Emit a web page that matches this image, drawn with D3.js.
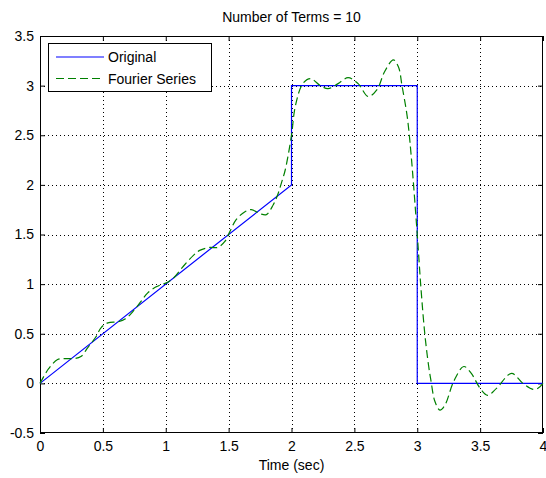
<!DOCTYPE html>
<html>
<head>
<meta charset="utf-8">
<script src="https://cdn.jsdelivr.net/npm/d3@7"></script>
<style>
  html, body { margin: 0; padding: 0; background: #fff; }
  svg { display: block; font-family: "Liberation Sans", Arial, sans-serif; }
</style>
</head>
<body>
<svg id="chart" width="546" height="478"></svg>
<script>
const titleText = "Number of Terms = 10";
const xLabelText = "Time (sec)";
const xTicks = [0, 0.5, 1, 1.5, 2, 2.5, 3, 3.5, 4];
const xTickLabels = ["0", "0.5", "1", "1.5", "2", "2.5", "3", "3.5", "4"];
const yTicks = [-0.5, 0, 0.5, 1, 1.5, 2, 2.5, 3, 3.5];
const yTickLabels = ["-0.5", "0", "0.5", "1", "1.5", "2", "2.5", "3", "3.5"];
const seriesNames = ["Original", "Fourier Series"];

const originalT = [0, 2, 2, 3, 3, 4];
const originalY = [0, 2, 3, 3, 0, 0];

const fourierT = [0, 0.07, 0.14, 0.205, 0.27, 0.325, 0.38, 0.445, 0.485, 0.54, 0.62, 0.68, 0.75, 0.80, 0.855, 0.92, 0.975, 1.0, 1.06, 1.14, 1.22, 1.27, 1.35, 1.415, 1.47, 1.51, 1.56, 1.63, 1.68, 1.75, 1.80, 1.855, 1.89, 1.92, 1.95, 2.0, 2.03, 2.09, 2.15, 2.23, 2.29, 2.37, 2.45, 2.53, 2.61, 2.68, 2.74, 2.81, 2.85, 2.88, 2.92, 2.95, 3.0, 3.03, 3.06, 3.09, 3.11, 3.14, 3.18, 3.22, 3.29, 3.37, 3.43, 3.5, 3.56, 3.63, 3.75, 3.84, 3.92, 3.96, 4.0];
const fourierY = [0, 0.15, 0.24, 0.25, 0.25, 0.27, 0.36, 0.47, 0.56, 0.61, 0.62, 0.65, 0.74, 0.82, 0.91, 0.97, 1.0, 1.01, 1.06, 1.18, 1.29, 1.34, 1.37, 1.37, 1.43, 1.53, 1.65, 1.73, 1.75, 1.71, 1.70, 1.80, 1.90, 2.02, 2.15, 2.5, 2.79, 3.02, 3.07, 3.0, 2.97, 3.02, 3.08, 3.02, 2.89, 2.96, 3.14, 3.26, 3.19, 2.99, 2.69, 2.32, 1.5, 0.95, 0.5, 0.18, 0.02, -0.18, -0.27, -0.22, 0.02, 0.17, 0.10, -0.05, -0.12, -0.05, 0.10, 0.0, -0.06, -0.05, 0.0];

const svg = d3.select("#chart");
const L = 40, R = 543, T = 36, B = 433;
const x = d3.scaleLinear().domain([0, 4]).range([L, R]);
const y = d3.scaleLinear().domain([-0.5, 3.5]).range([B, T]);

// grid
const grid = svg.append("g").attr("stroke", "#000").attr("stroke-width", 1).attr("stroke-dasharray", "1,3");
xTicks.slice(1, -1).forEach(v => {
  grid.append("line").attr("x1", Math.round(x(v)) + 0.5).attr("x2", Math.round(x(v)) + 0.5)
    .attr("y1", T).attr("y2", B);
});
yTicks.slice(1, -1).forEach(v => {
  grid.append("line").attr("y1", Math.round(y(v)) + 0.5).attr("y2", Math.round(y(v)) + 0.5)
    .attr("x1", L).attr("x2", R);
});

// axes
const fmtX = (d, i) => xTickLabels[i];
const fmtY = (d, i) => yTickLabels[i];
const axB = svg.append("g").attr("transform", `translate(0,${B})`)
  .call(d3.axisBottom(x).tickValues(xTicks).tickFormat(fmtX).tickSizeInner(-5).tickSizeOuter(0).tickPadding(8));
const axT = svg.append("g").attr("transform", `translate(0,${T})`)
  .call(d3.axisTop(x).tickValues(xTicks).tickFormat("").tickSizeInner(-5).tickSizeOuter(0));
const axL = svg.append("g").attr("transform", `translate(${L},0)`)
  .call(d3.axisLeft(y).tickValues(yTicks).tickFormat(fmtY).tickSizeInner(-5).tickSizeOuter(0).tickPadding(6));
const axR = svg.append("g").attr("transform", `translate(${R},0)`)
  .call(d3.axisRight(y).tickValues(yTicks).tickFormat("").tickSizeInner(-5).tickSizeOuter(0));
[axB, axT, axL, axR].forEach(a => {
  a.select(".domain").remove();
  a.selectAll("line").attr("stroke", "#000");
  a.selectAll("text").attr("font-size", 14).attr("fill", "#000")
    .attr("font-family", "'Liberation Sans', Arial, sans-serif");
});

// frame
svg.append("rect").attr("x", L + 0.5).attr("y", T + 0.5).attr("width", R - L - 1).attr("height", B - T - 1)
  .attr("fill", "none").attr("stroke", "#000").attr("stroke-width", 1);

// lines
const origData = originalT.map((t, i) => [t, originalY[i]]);
const fourData = fourierT.map((t, i) => [t, fourierY[i]]);
svg.append("path").datum(origData)
  .attr("d", d3.line().x(d => x(d[0])).y(d => y(d[1])))
  .attr("fill", "none").attr("stroke", "#0000ff").attr("stroke-width", 1.2);
svg.append("path").datum(fourData)
  .attr("d", d3.line().x(d => x(d[0])).y(d => y(d[1])).curve(d3.curveCatmullRom))
  .attr("fill", "none").attr("stroke", "#008000").attr("stroke-width", 1.2)
  .attr("stroke-dasharray", "8,4");

// title & label
svg.append("text").attr("x", (L + R) / 2).attr("y", 22).attr("text-anchor", "middle")
  .attr("font-size", 14).attr("fill", "#000").text(titleText);
svg.append("text").attr("x", (L + R) / 2).attr("y", 470).attr("text-anchor", "middle")
  .attr("font-size", 14).attr("fill", "#000").text(xLabelText);

// legend
const lg = svg.append("g");
lg.append("rect").attr("x", 48.5).attr("y", 43.5).attr("width", 163).attr("height", 48)
  .attr("fill", "#fff").attr("stroke", "#000").attr("stroke-width", 1);
const legendColors = ["#0000ff", "#008000"];
const legendDash = [null, "8,4"];
seriesNames.forEach((name, i) => {
  const yy = 57 + i * 21.5;
  lg.append("line").attr("x1", 56).attr("x2", 104).attr("y1", yy).attr("y2", yy)
    .attr("stroke", legendColors[i]).attr("stroke-width", 1.2)
    .attr("stroke-dasharray", legendDash[i]);
  lg.append("text").attr("x", 108).attr("y", yy + 5).attr("font-size", 14).attr("fill", "#000").text(name);
});
</script>
</body>
</html>
